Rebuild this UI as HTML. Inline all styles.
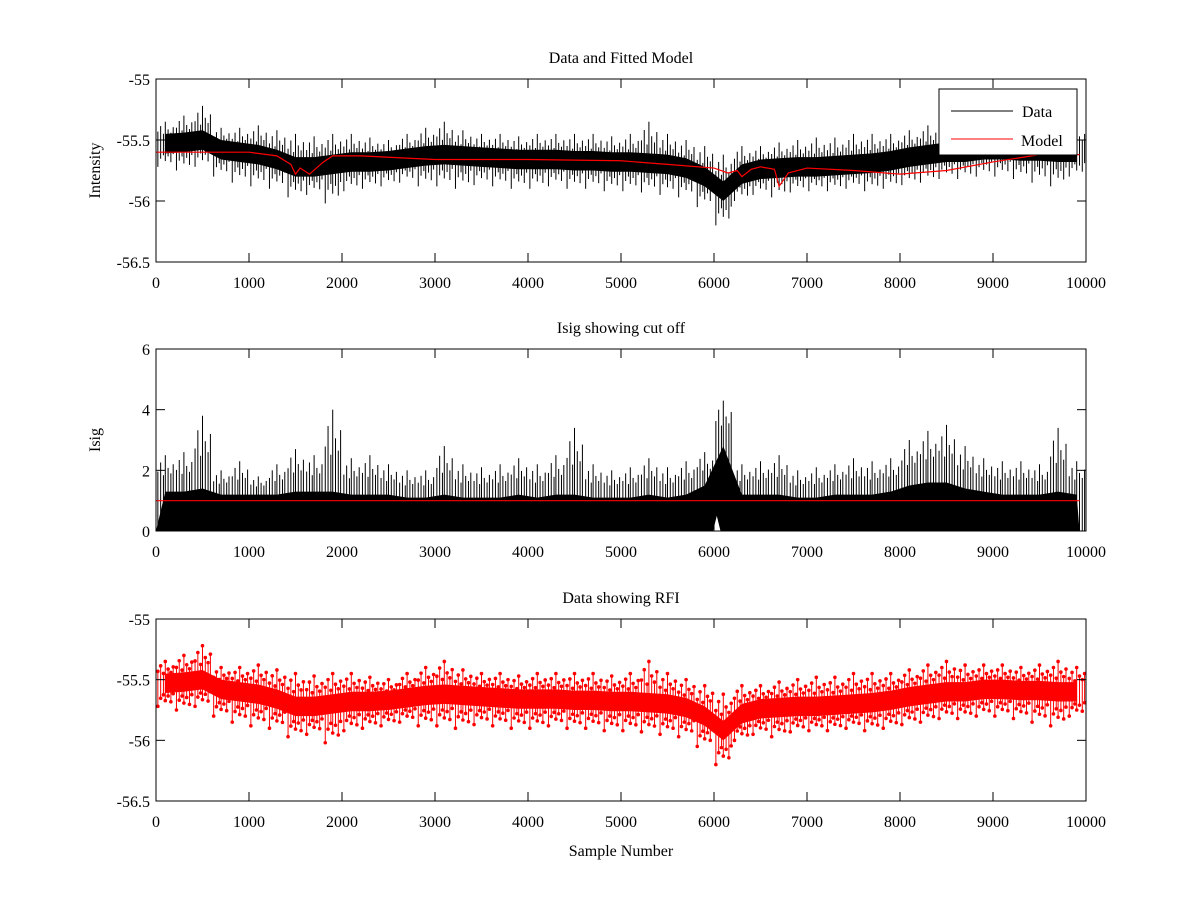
<!DOCTYPE html>
<html><head><meta charset="utf-8"><style>
html,body{margin:0;padding:0;background:#fff}
svg text{font-family:"Liberation Serif",serif;font-size:16px;fill:#000}
</style></head><body>
<svg id="chart" width="1200" height="900" xmlns="http://www.w3.org/2000/svg"></svg>
<script>
// ---- data (bins of 200 samples, centers 100..9900) ----
const binCenters = [100,300,500,700,900,1100,1300,1500,1700,1900,2100,2300,2500,2700,2900,3100,3300,3500,3700,3900,4100,4300,4500,4700,4900,5100,5300,5500,5700,5900,6100,6300,6500,6700,6900,7100,7300,7500,7700,7900,8100,8300,8500,8700,8900,9100,9300,9500,9700,9900];
const dataMean = [-55.53,-55.52,-55.5,-55.58,-55.6,-55.62,-55.66,-55.72,-55.72,-55.7,-55.68,-55.68,-55.67,-55.65,-55.63,-55.62,-55.63,-55.64,-55.65,-55.66,-55.66,-55.66,-55.67,-55.67,-55.68,-55.68,-55.69,-55.7,-55.73,-55.8,-55.92,-55.78,-55.74,-55.73,-55.72,-55.72,-55.71,-55.7,-55.69,-55.67,-55.64,-55.62,-55.6,-55.6,-55.58,-55.58,-55.59,-55.59,-55.6,-55.6];
const dataHigh = [-55.35,-55.3,-55.22,-55.4,-55.4,-55.38,-55.42,-55.45,-55.47,-55.45,-55.45,-55.48,-55.5,-55.45,-55.4,-55.35,-55.42,-55.45,-55.45,-55.47,-55.45,-55.45,-55.45,-55.45,-55.47,-55.45,-55.35,-55.45,-55.5,-55.55,-55.62,-55.55,-55.55,-55.52,-55.5,-55.48,-55.48,-55.45,-55.45,-55.45,-55.42,-55.38,-55.35,-55.38,-55.38,-55.38,-55.4,-55.38,-55.35,-55.4];
const dataLow = [-55.72,-55.75,-55.72,-55.8,-55.85,-55.88,-55.9,-55.97,-55.95,-56.02,-55.92,-55.9,-55.88,-55.85,-55.88,-55.88,-55.9,-55.87,-55.88,-55.9,-55.9,-55.88,-55.9,-55.9,-55.92,-55.92,-55.93,-55.95,-55.97,-56.05,-56.2,-56.0,-55.95,-55.97,-55.93,-55.92,-55.92,-55.9,-55.92,-55.9,-55.87,-55.85,-55.82,-55.82,-55.8,-55.8,-55.82,-55.85,-55.88,-55.8];
const modelX = [0,1000,1300,1450,1500,1550,1650,1800,1900,2200,3000,4000,5000,5500,6000,6150,6250,6300,6400,6500,6650,6700,6800,7000,7500,8000,8500,9000,9500,9930];
const modelY = [-55.6,-55.6,-55.63,-55.7,-55.78,-55.73,-55.78,-55.68,-55.63,-55.63,-55.66,-55.66,-55.67,-55.7,-55.73,-55.77,-55.75,-55.8,-55.74,-55.72,-55.74,-55.88,-55.77,-55.73,-55.75,-55.78,-55.75,-55.68,-55.62,-55.62];
const isigHigh = [2.5,2.6,3.8,2.0,2.3,1.8,2.2,2.7,2.5,4.0,2.4,2.5,2.2,2.0,2.0,2.8,2.2,2.1,2.2,2.4,2.2,2.5,3.4,2.2,2.0,2.1,2.4,2.1,2.3,2.6,4.3,2.2,2.3,2.5,2.0,2.1,2.2,2.4,2.3,2.4,3.0,3.3,3.5,2.8,2.4,2.3,2.3,2.2,3.4,2.3];
const isigCore = [1.3,1.3,1.4,1.2,1.2,1.2,1.2,1.3,1.3,1.3,1.2,1.2,1.2,1.1,1.1,1.2,1.1,1.1,1.1,1.2,1.1,1.2,1.2,1.1,1.1,1.1,1.2,1.1,1.2,1.5,2.8,1.2,1.2,1.2,1.1,1.1,1.2,1.2,1.2,1.3,1.5,1.6,1.6,1.4,1.3,1.2,1.2,1.2,1.3,1.2];
const cutoff = 1.0;
const xTicks = [0,1000,2000,3000,4000,5000,6000,7000,8000,9000,10000];
const intTicks = [-55,-55.5,-56,-56.5];
const isigTicks = [0,2,4,6];

const NS = "http://www.w3.org/2000/svg";
const svg = document.getElementById('chart');
function mk(tag, attrs, parent){const e=document.createElementNS(NS,tag);for(const k in attrs)e.setAttribute(k,attrs[k]);(parent||svg).appendChild(e);return e;}
const L=156,R=1086;
const xs = v => L + (v/10000)*(R-L);
const spikeOff = [-80,-50,-20,0,30,60,85];
const spikeFrac = [0.55,0.8,0.45,1,0.65,0.5,0.75];
const panels = [
 {top:79,bot:262,min:-56.5,max:-55,title:'Data and Fitted Model',ylab:'Intensity',ticks:intTicks,name:'panel-data-model'},
 {top:349,bot:531,min:0,max:6,title:'Isig showing cut off',ylab:'Isig',ticks:isigTicks,name:'panel-isig'},
 {top:619,bot:801,min:-56.5,max:-55,title:'Data showing RFI',ylab:'',ticks:intTicks,name:'panel-rfi'}
];
panels.forEach((p,pi)=>{
  const ys = v => p.bot - (v-p.min)/(p.max-p.min)*(p.bot-p.top);
  const g = mk('g',{});
  
  
  if(pi===0||pi===2){
    const col = pi===0?'#000':'#f00';
    let up='',dn='';
    binCenters.forEach((c,i)=>{up+=(i?'L':'M')+xs(c)+','+ys(dataMean[i]+0.08);});
    for(let i=binCenters.length-1;i>=0;i--) dn+='L'+xs(binCenters[i])+','+ys(dataMean[i]-0.08);
    const core = mk('path',{d:up+dn+'Z',fill:col},g);
    
    
    binCenters.forEach((c,i)=>{
      spikeOff.forEach((o,k)=>{
        const f=spikeFrac[k], f2=spikeFrac[(k+3)%spikeFrac.length];
        const hi=dataMean[i]+(dataHigh[i]-dataMean[i])*f, lo=dataMean[i]+(dataLow[i]-dataMean[i])*f2;
        const ln = mk('line',{x1:xs(c+o),x2:xs(c+o),y1:ys(hi),y2:ys(lo),stroke:col,'stroke-width':1},g);
        
        
        if(pi===2){
          [hi,lo].forEach(v=>{
            const m = mk('circle',{cx:xs(c+o),cy:ys(v),r:1.8,fill:'#f00'},g);
            
            
          });
        }
      });
    });
    if(pi===0){
      let d='';
      modelX.forEach((x,i)=>{d+=(i?'L':'M')+xs(x)+','+ys(modelY[i]);});
      const ml = mk('path',{d:d,fill:'none',stroke:'#f00','stroke-width':1.2},g);
      
      
    }
  } else {
    let d='M'+xs(0)+','+ys(0);
    binCenters.forEach((c,i)=>{d+='L'+xs(c)+','+ys(isigCore[i]);});
    d+='L'+xs(9930)+','+ys(0)+'Z';
    const core = mk('path',{d:d,fill:'#000'},g);
    
    
    binCenters.forEach((c,i)=>{
      spikeOff.forEach((o,k)=>{
        const h = isigCore[i]+(isigHigh[i]-isigCore[i])*spikeFrac[k];
        const ln = mk('line',{x1:xs(c+o),x2:xs(c+o),y1:ys(0),y2:ys(h),stroke:'#000','stroke-width':1},g);
        
        
      });
    });
    const gap = mk('path',{d:'M'+xs(5990)+','+ys(0)+'L'+xs(6030)+','+ys(0.5)+'L'+xs(6070)+','+ys(0)+'Z',fill:'#fff'},g);
    
    
    const cl = mk('line',{x1:xs(0),x2:xs(9930),y1:ys(cutoff),y2:ys(cutoff),stroke:'#f00','stroke-width':1.2},g);
    
    
  }
  const box = mk('rect',{x:L,y:p.top,width:R-L,height:p.bot-p.top,fill:'none',stroke:'#000','stroke-width':1},g);
  
  
  xTicks.forEach(t=>{
    const x=xs(t);
    mk('line',{x1:x,x2:x,y1:p.bot,y2:p.bot-9,stroke:'#000'},g);
    mk('line',{x1:x,x2:x,y1:p.top,y2:p.top+9,stroke:'#000'},g);
    const tx = mk('text',{x:x,y:p.bot+26,'text-anchor':'middle'},g);
    tx.textContent=t;
    
    
  });
  p.ticks.forEach(t=>{
    const y=ys(t);
    mk('line',{x1:L,x2:L+9,y1:y,y2:y,stroke:'#000'},g);
    mk('line',{x1:R,x2:R-9,y1:y,y2:y,stroke:'#000'},g);
    const tx = mk('text',{x:L-6,y:y+6,'text-anchor':'end'},g);
    tx.textContent=t;
    
    
  });
  const ti = mk('text',{x:(L+R)/2,y:p.top-16,'text-anchor':'middle'},g);
  ti.textContent=p.title;
  
  
  if(p.ylab){
    const yl = mk('text',{x:0,y:0,'text-anchor':'middle',transform:'translate(100,'+((p.top+p.bot)/2)+') rotate(-90)'},g);
    yl.textContent=p.ylab;
    
    
  }
});
const xl = mk('text',{x:(L+R)/2,y:856,'text-anchor':'middle'});
xl.textContent='Sample Number';


const lg = mk('g',{});


mk('rect',{x:939,y:89,width:138,height:66,fill:'#fff',stroke:'#000'},lg);
mk('line',{x1:951,x2:1013,y1:111,y2:111,stroke:'#000'},lg);
mk('line',{x1:951,x2:1013,y1:139,y2:139,stroke:'#f00'},lg);
const t1 = mk('text',{x:1022,y:117},lg); t1.textContent='Data';


const t2 = mk('text',{x:1021,y:146},lg); t2.textContent='Model';


</script>
</body></html>
